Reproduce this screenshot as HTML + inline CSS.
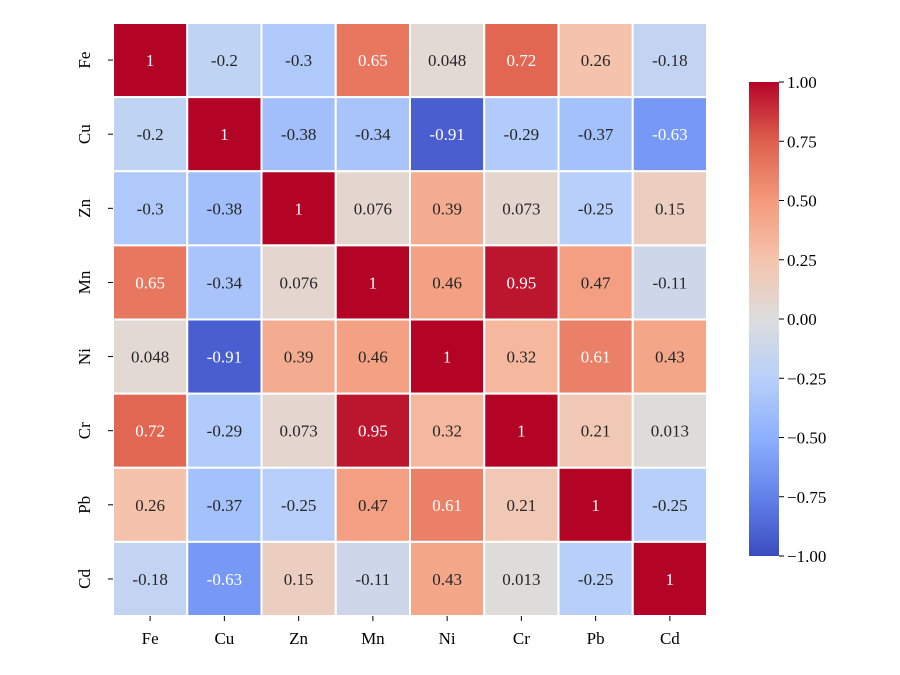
<!DOCTYPE html>
<html><head><meta charset="utf-8"><style>
html,body{margin:0;padding:0;background:#fff;}
svg{display:block;font-family:"Liberation Serif",serif;}
</style></head><body>
<svg id="chart" width="900" height="675" viewBox="0 0 900 675">
<defs><linearGradient id="cbgrad" x1="0" y1="1" x2="0" y2="0"></linearGradient></defs>
<g id="cells"></g>
<g id="xaxis"></g>
<g id="yaxis"></g>
<g id="cbar"></g>
</svg>
<script>
const labels = ["Fe","Cu","Zn","Mn","Ni","Cr","Pb","Cd"];
const rowFe = [1,-0.2,-0.3,0.65,0.048,0.72,0.26,-0.18];
const rowCu = [-0.2,1,-0.38,-0.34,-0.91,-0.29,-0.37,-0.63];
const rowZn = [-0.3,-0.38,1,0.076,0.39,0.073,-0.25,0.15];
const rowMn = [0.65,-0.34,0.076,1,0.46,0.95,0.47,-0.11];
const rowNi = [0.048,-0.91,0.39,0.46,1,0.32,0.61,0.43];
const rowCr = [0.72,-0.29,0.073,0.95,0.32,1,0.21,0.013];
const rowPb = [0.26,-0.37,-0.25,0.47,0.61,0.21,1,-0.25];
const rowCd = [-0.18,-0.63,0.15,-0.11,0.43,0.013,-0.25,1];
const matrix = [rowFe,rowCu,rowZn,rowMn,rowNi,rowCr,rowPb,rowCd];
const cbTicks = [1.00,0.75,0.50,0.25,0.00,-0.25,-0.50,-0.75,-1.00];

const NS="http://www.w3.org/2000/svg";
const stops=[[59,76,192],[98,130,234],[141,176,254],[184,208,249],[221,221,221],[245,196,173],[244,154,123],[222,96,77],[180,4,38]];
function cmap(v){let t=(v+1)/2;t=Math.max(0,Math.min(1,t));const p=t*8;const i=Math.min(7,Math.floor(p));const f=p-i;
const a=stops[i],b=stops[i+1];return `rgb(${a.map((c,k)=>Math.round(c+(b[k]-c)*f)).join(',')})`;}
const X0=113,X1=707,Y0=23,Y1=616;const n=labels.length;const cw=(X1-X0)/n,ch=(Y1-Y0)/n;
function xs(j){return X0+j*cw;} function ys(i){return Y0+i*ch;}
function mk(tag,attrs,parent,txt){const e=document.createElementNS(NS,tag);for(const k in attrs)e.setAttribute(k,attrs[k]);if(txt!==undefined)e.textContent=txt;parent.appendChild(e);return e;}
const cells=document.getElementById('cells');
matrix.forEach((row,i)=>row.forEach((v,j)=>{
 const r=mk('rect',{x:xs(j),y:ys(i),width:cw,height:ch,fill:cmap(v),stroke:'#fff','stroke-width':2},cells);
 
 
 const t=mk('text',{x:xs(j)+cw/2,y:ys(i)+ch/2+6,'text-anchor':'middle','font-size':17,fill:Math.abs(v)>0.55?'#fff':'#262626'},cells,String(v));
 
 
}));
const xa=document.getElementById('xaxis'),ya=document.getElementById('yaxis');
labels.forEach((l,k)=>{
 mk('line',{x1:xs(k)+cw/2,x2:xs(k)+cw/2,y1:Y1,y2:Y1+5,stroke:'#000','stroke-width':1},xa);
 const t=mk('text',{x:xs(k)+cw/2,y:Y1+28,'text-anchor':'middle','font-size':17,fill:'#000'},xa,l);
 
 
 mk('line',{x1:X0-5,x2:X0,y1:ys(k)+ch/2,y2:ys(k)+ch/2,stroke:'#000','stroke-width':1},ya);
 const cy=ys(k)+ch/2,cx=X0-27;
 const u=mk('text',{x:cx,y:cy,'text-anchor':'middle','dominant-baseline':'middle','font-size':17,fill:'#000',transform:`rotate(-90 ${cx} ${cy})`},ya,l);
 
 
});
const g=document.getElementById('cbgrad');
stops.forEach((s,k)=>mk('stop',{offset:(k/8*100)+'%','stop-color':`rgb(${s.join(',')})`},g));
const cb=document.getElementById('cbar');const CX=749,CW=30,CT=82,CB=556;
function cy(v){return CB-(v+1)/2*(CB-CT);}
const bar=mk('rect',{x:CX,y:CT,width:CW,height:CB-CT,fill:'url(#cbgrad)'},cb);


cbTicks.forEach(v=>{
 mk('line',{x1:CX+CW,x2:CX+CW+5,y1:cy(v),y2:cy(v),stroke:'#000','stroke-width':1},cb);
 const s=(v<0?'\u2212':'')+Math.abs(v).toFixed(2);
 const t=mk('text',{x:CX+CW+8,y:cy(v)+6,'font-size':17,fill:'#000'},cb,s);
 
 
});
</script>
</body></html>
